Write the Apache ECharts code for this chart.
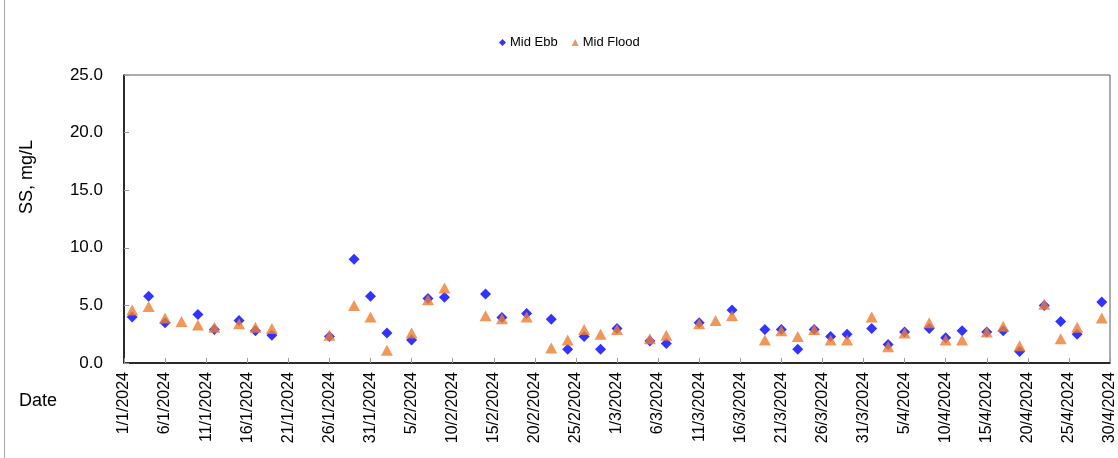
<!DOCTYPE html>
<html>
<head>
<meta charset="utf-8">
<script src="https://cdn.jsdelivr.net/npm/echarts@6/dist/echarts.min.js"></script>
<style>
html,body{margin:0;padding:0;background:#fff;}
#c{width:1118px;height:458px;}
</style>
</head>
<body>
<div id="c"></div>
<script>
const dates = ["2/1/2024","4/1/2024","6/1/2024","8/1/2024","10/1/2024","12/1/2024","15/1/2024","17/1/2024","19/1/2024",
  "26/1/2024","29/1/2024","31/1/2024","2/2/2024","5/2/2024","7/2/2024","9/2/2024","14/2/2024","16/2/2024","19/2/2024",
  "22/2/2024","24/2/2024","26/2/2024","28/2/2024","1/3/2024","5/3/2024","7/3/2024","11/3/2024","13/3/2024","15/3/2024",
  "19/3/2024","21/3/2024","23/3/2024","25/3/2024","27/3/2024","29/3/2024","1/4/2024","3/4/2024","5/4/2024","8/4/2024",
  "10/4/2024","12/4/2024","15/4/2024","17/4/2024","19/4/2024","22/4/2024","24/4/2024","26/4/2024","29/4/2024"];
const midEbb = [4.0,5.8,3.5,null,4.2,2.9,3.7,2.8,2.4,
  2.3,9.0,5.8,2.6,2.0,5.6,5.7,6.0,3.95,4.3,
  3.8,1.2,2.3,1.2,3.0,1.9,1.7,3.5,null,4.6,
  2.9,2.9,1.2,2.9,2.3,2.5,3.0,1.6,2.7,3.0,
  2.2,2.8,2.7,2.8,1.0,5.0,3.6,2.5,5.3];
const midFlood = [4.6,4.9,3.9,3.6,3.3,3.1,3.4,3.1,3.0,
  2.4,5.0,4.0,1.1,2.6,5.5,6.5,4.1,3.85,4.0,
  1.3,2.0,2.9,2.5,2.9,2.1,2.4,3.4,3.7,4.1,
  2.0,2.8,2.3,2.9,2.0,2.0,4.0,1.4,2.6,3.5,
  2.0,2.0,2.7,3.2,1.5,5.1,2.1,3.1,3.9];
const yTicks = [0,5,10,15,20,25];
const startDate = [2024,1,1];
const seriesNames = ["Mid Ebb","Mid Flood"];

const base = Date.UTC(startDate[0], startDate[1]-1, startDate[2]);
function dayIndex(s){
  const p = s.split('/').map(Number);
  return (Date.UTC(p[2], p[1]-1, p[0]) - base) / 86400000;
}
function dayLabel(v){
  const d = new Date(base + v*86400000);
  return d.getUTCDate() + '/' + (d.getUTCMonth()+1) + '/' + d.getUTCFullYear();
}
const ebbData = [], floodData = [];
dates.forEach((s,i)=>{
  const x = dayIndex(s);
  if (midEbb[i] != null) ebbData.push([x, midEbb[i]]);
  if (midFlood[i] != null) floodData.push([x, midFlood[i]]);
});

const FONT = '"Liberation Sans", Arial, sans-serif';
const chart = echarts.init(document.getElementById('c'), null, {renderer:'canvas'});
chart.setOption({
  animation:false,
  backgroundColor:'#ffffff',
  textStyle:{fontFamily:FONT},
  legend:{
    data:[
      {name:seriesNames[0], icon:'diamond'},
      {name:seriesNames[1], icon:'triangle'}
    ],
    left:494, top:31,
    itemWidth:7, itemHeight:7, itemGap:14,
    textStyle:{fontSize:13, color:'#000', fontFamily:FONT, padding:[0,0,0,-1]}
  },
  grid:{left:124, right:5, top:75, bottom:95, show:true, borderColor:'#595959', borderWidth:1, containLabel:false},
  xAxis:{
    type:'value', min:0, max:120, interval:5,
    axisLine:{show:true, lineStyle:{color:'#000', width:1.5}},
    axisTick:{show:true, inside:true, length:5, lineStyle:{color:'#9a9a9a'}},
    splitLine:{show:false},
    axisLabel:{rotate:90, fontSize:16, color:'#000', margin:9, fontFamily:FONT, formatter:dayLabel, showMaxLabel:true,
      padding:[0,0,0,0]}
  },
  yAxis:{
    type:'value', min:yTicks[0], max:yTicks[yTicks.length-1], interval:5,
    axisLine:{show:true, lineStyle:{color:'#000', width:1.5}},
    axisTick:{show:true, inside:true, length:5, lineStyle:{color:'#9a9a9a'}},
    splitLine:{show:false},
    axisLabel:{fontSize:17, color:'#000', margin:21, fontFamily:FONT, formatter:v=>v.toFixed(1)}
  },
  graphic:[
    {type:'line', shape:{x1:4.5,y1:0,x2:4.5,y2:458}, style:{stroke:'#a6a6a6', lineWidth:1}},
    {type:'text', left:19, top:392, style:{text:'Date', fontSize:18, fill:'#000', fontFamily:FONT}},
    {type:'text', x:27, y:177, rotation:Math.PI/2,
     style:{text:'SS, mg/L', fontSize:18, fill:'#000', fontFamily:FONT, align:'center', verticalAlign:'middle'}}
  ],
  series:[
    {name:seriesNames[0], type:'scatter', data:ebbData, symbol:'diamond', symbolSize:[11,11],
     itemStyle:{color:'#0000ff'}, z:2},
    {name:seriesNames[1], type:'scatter', data:floodData, symbol:'triangle', symbolSize:[12,11],
     itemStyle:{color:'#ed7d31'}, z:3}
  ]
});
</script>
</body>
</html>
